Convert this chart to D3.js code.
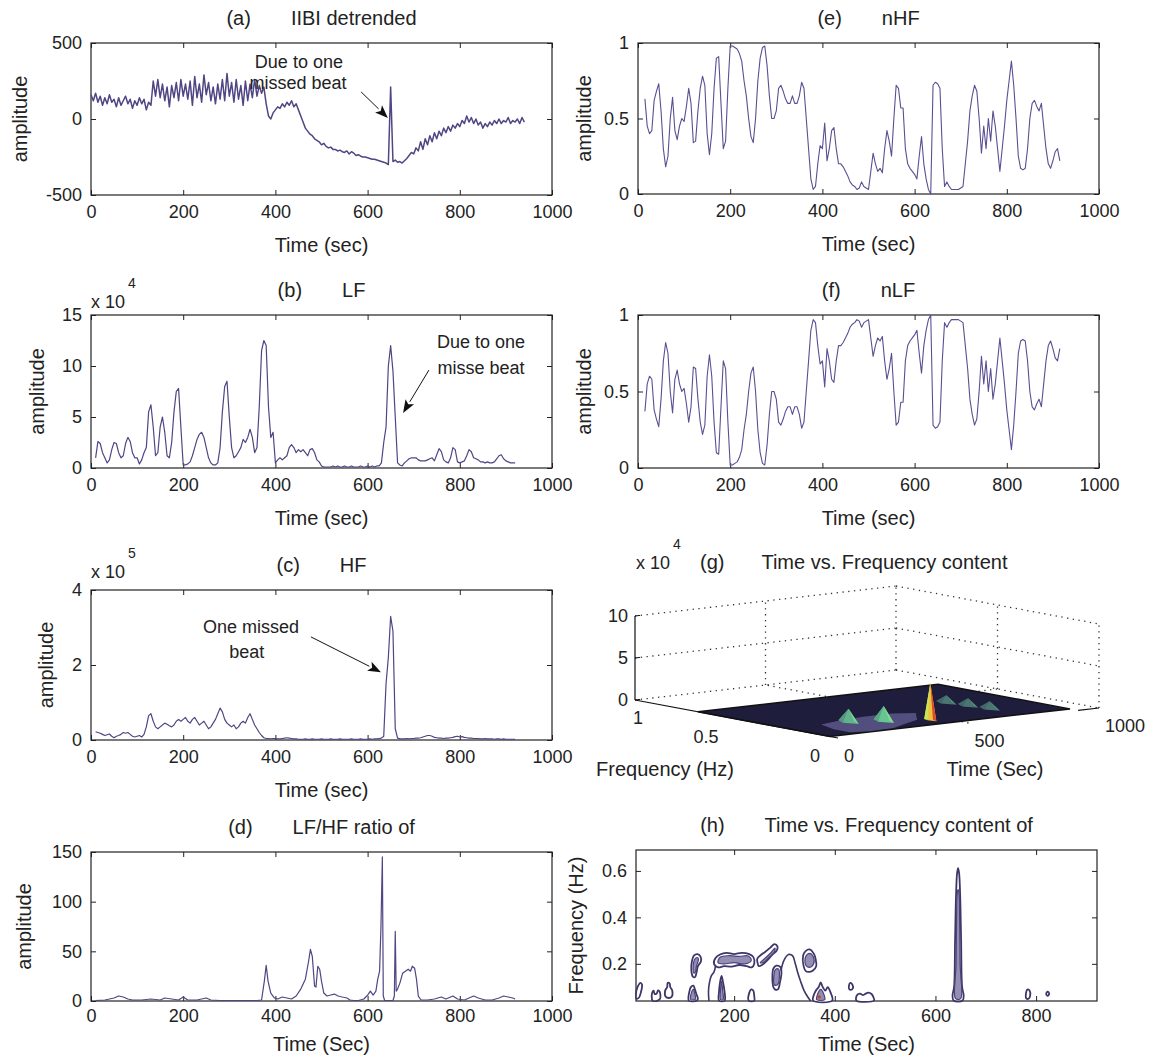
<!DOCTYPE html>
<html>
<head>
<meta charset="utf-8">
<script src="https://cdn.jsdelivr.net/npm/d3@7/dist/d3.min.js"></script>
<style>
html,body{margin:0;padding:0;background:#fff;}
svg text{font-family:"Liberation Sans",Arial,Helvetica,sans-serif;font-size:20px;fill:#222;}
svg .tick text{font-size:18px;}
svg text.ann{font-size:18px;}
</style>
</head>
<body>
<svg id="fig" width="1166" height="1060"></svg>
<script>
// ===================== DATA =====================
const timeTicks = [0, 200, 400, 600, 800, 1000];

// (a) IIBI detrended : one value every 5 s starting at t = 0
const iibiStart = 0, iibiStep = 5;
const iibiValues = [
 160,120,170,110,150,90,140,100,160,110, 130,80,140,90,120,150,100,130,70,120,
 90,140,100,130,60,110,90,
 250,150,260,140,230,120,210,80,220,140, 240,120,260,150,230,130,250,90,280,140,
 230,110,290,160,240,120,210,100,230,130, 260,120,300,150,240,110,260,130,220,90,
 250,120,230,140,260,150,220,170,210,100,
 20,0,40,60,80,70,100,80,110,90, 120,80,100,60,20,-20,-60,-80,-100,-110,
 -130,-140,-150,-170,-160,-180,-190,-185,-200,-200, -210,-205,-215,-220,-210,-230,-215,-225,-240,-235,
 -245,-250,-250,-255,-260,-265,-265,-270,-275,-280, -285,-290,-300,210,-280,-270,-285,-280,-290,-275,
 -260,-240,-220,-230,-190,-210,-150,-200,-130,-170, -110,-150,-90,-130,-80,-110,-60,-90,-50,-80,
 -40,-60,-30,-50,-10,-30,20,-20,10,-30, 0,-40,-20,-60,-30,-50,-20,-40,-10,-30,
 0,-30,-10,-20,10,-30,-10,-20,0,-30, 10,-20
];
const iibiTicks = [-500, 0, 500];

// (b) LF power (x10^4) : every 5 s from t = 10
const lfStart = 10, lfStep = 5;
const lfValues = [
 1.0,2.6,2.4,1.5,1.0,0.5,0.8,1.8,2.5,2.4,
 1.5,1.0,1.2,2.4,3.0,2.6,1.5,1.0,1.0,0.4,
 0.8,1.5,2.0,5.5,6.2,4.0,1.2,1.5,4.0,5.0,
 3.5,1.2,1.0,2.5,5.5,7.5,7.8,4.0,0.3,0.3,
 0.4,0.6,1.2,2.0,2.8,3.3,3.5,3.0,2.0,1.0,
 0.5,0.3,0.3,0.5,2.0,5.5,8.0,8.5,5.0,2.0,
 1.0,1.2,1.6,2.0,2.8,2.5,3.0,3.8,3.0,1.5,
 2.0,6.0,11.5,12.5,12.0,6.0,3.0,3.5,0.5,0.8,
 1.0,0.8,1.0,1.2,2.0,2.3,2.0,1.5,1.8,1.6,
 1.8,1.5,1.2,1.8,1.9,1.5,0.8,0.6,0.2,0.1,
 0.1,0.1,0.1,0.2,0.1,0.2,0.1,0.1,0.2,0.1,
 0.1,0.2,0.1,0.1,0.1,0.2,0.1,0.1,0.2,0.1,
 0.2,0.1,0.2,0.2,0.5,2.5,4.0,10.0,12.0,9.5,
 5.0,0.5,0.3,0.2,0.5,0.7,0.9,1.0,1.0,1.0,
 0.8,0.7,0.7,0.7,0.8,0.9,1.0,0.7,1.3,1.9,
 1.6,0.8,0.6,0.5,1.0,2.0,1.8,0.6,0.5,0.6,
 0.7,1.2,1.8,1.6,1.0,0.9,0.8,0.6,0.6,0.5,
 0.6,0.5,0.5,0.6,0.9,1.2,1.3,0.9,0.7,0.6,
 0.5,0.5,0.5
];
const lfTicks = [0, 5, 10, 15];

// (c) HF power (x10^5) : every 5 s from t = 10
const hfStart = 10, hfStep = 5;
const hfValues = [
 0.22,0.20,0.18,0.15,0.12,0.14,0.16,0.10,0.06,0.10,
 0.12,0.15,0.20,0.18,0.20,0.15,0.10,0.08,0.10,0.12,
 0.08,0.15,0.35,0.65,0.70,0.50,0.35,0.30,0.35,0.40,
 0.45,0.42,0.38,0.35,0.40,0.50,0.55,0.50,0.55,0.60,
 0.50,0.45,0.55,0.60,0.50,0.40,0.45,0.50,0.40,0.30,
 0.35,0.45,0.55,0.70,0.85,0.75,0.55,0.45,0.40,0.35,
 0.40,0.30,0.35,0.45,0.50,0.45,0.60,0.70,0.55,0.40,
 0.30,0.20,0.12,0.06,0.04,0.04,0.03,0.04,0.04,0.03,
 0.03,0.04,0.05,0.06,0.05,0.04,0.03,0.03,0.02,0.02,
 0.02,0.03,0.02,0.02,0.03,0.02,0.02,0.02,0.03,0.02,
 0.02,0.02,0.03,0.02,0.02,0.02,0.03,0.02,0.02,0.02,
 0.02,0.03,0.02,0.02,0.02,0.03,0.02,0.02,0.02,0.03,
 0.02,0.03,0.03,0.04,0.05,0.10,1.50,2.20,3.30,2.90,
 0.30,0.05,0.03,0.03,0.03,0.04,0.03,0.04,0.04,0.05,
 0.05,0.06,0.08,0.10,0.12,0.12,0.10,0.07,0.06,0.05,
 0.05,0.04,0.05,0.05,0.06,0.07,0.09,0.10,0.08,0.09,
 0.07,0.06,0.05,0.05,0.04,0.04,0.04,0.03,0.03,0.04,
 0.03,0.03,0.03,0.02,0.03,0.03,0.02,0.03,0.02,0.02,
 0.02,0.02,0.02
];
const hfTicks = [0, 2, 4];

// (d) LF/HF ratio
const ratioTime = [10,30,50,60,70,80,90,110,130,150,160,175,190,200,210,230,250,260,280,300,
 320,340,360,370,376,380,384,390,398,405,415,425,435,445,455,465,472,476,480,485,
 488,492,496,500,505,512,520,528,536,545,555,562,570,580,592,600,606,612,618,622,
 626,629,632,634,637,645,655,658,660,662,665,670,676,682,688,693,697,702,706,710,
 716,730,745,760,770,785,795,810,830,840,855,870,885,895,905,915,920];
const ratioValues = [0.5,1,3,5,4,2,1,1,2,1,3,2,1,4,1,1,3,1,0.5,0.5,
 0.5,0.5,0.5,1,20,36,20,8,3,2,4,3,2,5,12,22,40,52,45,15,
 14,35,32,20,8,5,6,7,5,4,3,1,0.5,0.5,2,6,10,6,10,22,
 30,75,145,5,0.5,0.5,0.5,5,70,10,12,18,28,30,32,30,35,33,22,5,
 1,1,2,4,2,5,2,1,5,3,1,1,3,5,4,3,2];
const ratioTicks = [0, 50, 100, 150];

// (e) nHF : every 5 s from t = 15
const nhfStart = 15, nhfStep = 5;
const nhfValues = [
 0.63,0.45,0.40,0.42,0.62,0.68,0.73,0.55,0.30,0.18,
 0.25,0.50,0.64,0.42,0.36,0.45,0.50,0.48,0.58,0.70,
 0.60,0.34,0.35,0.55,0.70,0.78,0.72,0.40,0.26,0.40,
 0.70,0.90,0.91,0.60,0.30,0.35,0.70,0.98,0.98,0.97,
 0.96,0.93,0.88,0.75,0.65,0.50,0.38,0.34,0.50,0.75,
 0.90,0.97,0.98,0.85,0.65,0.50,0.50,0.55,0.70,0.72,
 0.68,0.63,0.60,0.60,0.65,0.60,0.60,0.65,0.74,0.70,
 0.50,0.30,0.10,0.03,0.05,0.20,0.32,0.30,0.47,0.22,
 0.30,0.42,0.44,0.30,0.20,0.20,0.18,0.15,0.12,0.08,
 0.06,0.05,0.03,0.04,0.08,0.05,0.04,0.03,0.15,0.27,
 0.20,0.15,0.17,0.14,0.30,0.42,0.35,0.25,0.50,0.72,
 0.70,0.57,0.57,0.30,0.20,0.17,0.15,0.13,0.10,0.25,
 0.38,0.20,0.10,0.03,0.00,0.72,0.74,0.73,0.70,0.30,
 0.05,0.08,0.05,0.03,0.03,0.03,0.03,0.04,0.05,0.20,
 0.35,0.55,0.65,0.72,0.68,0.50,0.27,0.45,0.30,0.50,
 0.35,0.55,0.45,0.30,0.15,0.30,0.45,0.62,0.75,0.88,
 0.72,0.50,0.25,0.17,0.16,0.17,0.30,0.50,0.60,0.62,
 0.58,0.55,0.60,0.45,0.30,0.20,0.17,0.22,0.28,0.30,
 0.22
];
// (f) nLF : every 5 s from t = 15
const nlfStart = 15, nlfStep = 5;
const nlfValues = [
 0.37,0.55,0.60,0.58,0.38,0.32,0.27,0.45,0.70,0.82,
 0.75,0.50,0.36,0.58,0.64,0.55,0.50,0.52,0.42,0.30,
 0.40,0.66,0.65,0.45,0.30,0.22,0.28,0.60,0.74,0.60,
 0.30,0.10,0.09,0.40,0.70,0.65,0.30,0.02,0.02,0.03,
 0.04,0.07,0.12,0.25,0.35,0.50,0.62,0.66,0.50,0.25,
 0.10,0.03,0.02,0.15,0.35,0.50,0.50,0.45,0.30,0.28,
 0.32,0.37,0.40,0.40,0.35,0.40,0.40,0.35,0.26,0.30,
 0.50,0.70,0.90,0.97,0.95,0.80,0.68,0.70,0.53,0.78,
 0.70,0.58,0.56,0.70,0.80,0.80,0.82,0.85,0.88,0.92,
 0.94,0.95,0.97,0.96,0.92,0.95,0.96,0.97,0.85,0.73,
 0.80,0.85,0.83,0.86,0.70,0.58,0.65,0.75,0.50,0.28,
 0.30,0.43,0.43,0.70,0.80,0.83,0.85,0.87,0.90,0.75,
 0.62,0.80,0.90,0.97,1.00,0.28,0.26,0.27,0.30,0.70,
 0.95,0.92,0.95,0.97,0.97,0.97,0.97,0.96,0.95,0.80,
 0.65,0.45,0.35,0.28,0.32,0.50,0.73,0.55,0.70,0.50,
 0.65,0.45,0.55,0.70,0.85,0.70,0.55,0.38,0.25,0.12,
 0.28,0.50,0.75,0.83,0.84,0.83,0.70,0.50,0.40,0.38,
 0.42,0.45,0.40,0.55,0.70,0.80,0.83,0.78,0.72,0.70,
 0.78
];
const normTicks = [0, 0.5, 1];

// (g) 3-D time/frequency surface (height in x10^4)
const gTimeTicks = [0, 500, 1000];
const gFreqTicks = [0, 0.5, 1];
const gZTicks = [0, 5, 10];
const gSurfTime = [0, 920];
const gSurfFreq = [0.04, 0.69];
const gLowPatch = [[100,0.07],[160,0.05],[260,0.06],[330,0.1],[420,0.15],[500,0.26],[440,0.3],[330,0.3],[220,0.28],[130,0.25],[100,0.15]];
const gPeakTime   = [227, 323, 447, 703, 716, 729];
const gPeakFreq   = [0.24, 0.19, 0.12, 0.37, 0.28, 0.19];
const gPeakHeight = [1.6, 1.8, 4.4, 0.9, 0.9, 0.9];

// (h) contour outlines [time, freq]
const hTimeTicks = [200, 400, 600, 800];
const hFreqTicks = [0.2, 0.4, 0.6];
const hOuter = [
 [[6,0.05],[5,0.07],[8,0.1],[14,0.118],[17,0.11],[15,0.08],[11,0.055]],
 [[38,0.042],[37,0.075],[40,0.085],[42,0.07],[46,0.072],[49,0.086],[52,0.08],[53,0.05],[48,0.042]],
 [[64,0.058],[63,0.085],[67,0.1],[68,0.118],[72,0.115],[73,0.1],[77,0.085],[76,0.058],[70,0.053]],
 [[110,0.042],[111,0.08],[114,0.1],[119,0.106],[122,0.09],[125,0.07],[128,0.05],[126,0.042]],
 [[118,0.145],[115,0.17],[116,0.21],[120,0.235],[127,0.242],[133,0.232],[134,0.21],[128,0.19],[125,0.16],[122,0.142]],
 [[160,0.2],[163,0.225],[172,0.24],[185,0.247],[200,0.242],[215,0.247],[230,0.242],[238,0.23],[240,0.2],[235,0.185],[225,0.19],[210,0.195],[195,0.188],[180,0.19],[168,0.185]],
 [[170,0.042],[170,0.08],[172,0.12],[175,0.148],[178,0.12],[181,0.08],[181,0.042]],
 [[229,0.042],[230,0.075],[234,0.09],[238,0.085],[240,0.06],[240,0.042]],
 [[247,0.2],[246,0.222],[252,0.236],[262,0.252],[272,0.27],[280,0.285],[286,0.275],[284,0.255],[276,0.24],[266,0.215],[256,0.196],[249,0.19]],
 [[278,0.1],[276,0.14],[278,0.18],[284,0.192],[292,0.186],[294,0.16],[291,0.12],[287,0.09],[281,0.09]],
 [[338,0.19],[337,0.235],[342,0.255],[350,0.262],[358,0.245],[362,0.22],[363,0.19],[356,0.17],[348,0.165],[342,0.17]],
 [[357,0.042],[359,0.07],[364,0.09],[368,0.1],[372,0.12],[376,0.1],[381,0.085],[386,0.1],[391,0.08],[395,0.042]],
 [[429,0.09],[428,0.105],[431,0.118],[435,0.11],[436,0.095],[432,0.088]],
 [[443,0.042],[444,0.065],[450,0.072],[456,0.065],[460,0.07],[467,0.076],[473,0.07],[477,0.055],[478,0.042]],
 [[636,0.042],[634,0.065],[637,0.1],[639,0.3],[641,0.5],[643,0.59],[645,0.612],[647,0.59],[649,0.5],[651,0.3],[653,0.1],[656,0.065],[654,0.042]],
 [[781,0.05],[780,0.075],[783,0.09],[787,0.085],[788,0.06],[785,0.05]],
 [[820,0.07],[823,0.08],[826,0.072],[823,0.062]]
];
const hInner = [
 [[114,0.046],[115,0.075],[119,0.09],[122,0.07],[123,0.048]],
 [[120,0.16],[119,0.2],[124,0.225],[129,0.222],[125,0.19],[123,0.165]],
 [[168,0.205],[172,0.228],[190,0.235],[210,0.232],[228,0.234],[234,0.215],[222,0.2],[200,0.205],[180,0.2]],
 [[173,0.046],[173,0.09],[175,0.125],[177,0.09],[178,0.046]],
 [[252,0.205],[262,0.225],[274,0.25],[281,0.268],[280,0.25],[268,0.225],[258,0.205]],
 [[280,0.11],[279,0.15],[282,0.175],[288,0.178],[290,0.15],[286,0.11]],
 [[342,0.195],[342,0.23],[350,0.245],[357,0.232],[358,0.2],[350,0.185]],
 [[364,0.046],[366,0.07],[372,0.09],[378,0.07],[380,0.046]],
 [[640,0.05],[641,0.2],[642,0.4],[643,0.5],[645,0.52],[647,0.5],[648,0.4],[649,0.2],[650,0.05]]
];
const hOpen = [
 [[150,0.04],[149,0.08],[151,0.12],[155,0.15],[160,0.165],[163,0.19]],
 [[293,0.17],[299,0.215],[308,0.24],[316,0.235],[321,0.205],[326,0.165],[332,0.125],[339,0.085],[347,0.055],[352,0.04]]
];
const hMark = [369, 0.057];

// ===================== DRAWING =====================
const svg = d3.select("#fig");
const LINE = "#4f4683";
const AX = "#222";
svg.append("rect").attr("width",1166).attr("height",1060).attr("fill","#fff");

function series(start, step, vals){ return vals.map((v,i)=>[start + i*step, v]); }

function panel(o){
  const x = d3.scaleLinear().domain(o.xd).range([o.l, o.r]);
  const y = d3.scaleLinear().domain(o.yd).range([o.b, o.t]);
  const g = svg.append("g");
  const fmt = d => String(d);
  g.append("g").attr("transform",`translate(0,${o.b})`)
    .call(d3.axisBottom(x).tickValues(o.xt).tickSizeInner(-5).tickSizeOuter(0).tickPadding(o.tp||10).tickFormat(fmt));
  g.append("g").attr("transform",`translate(0,${o.t})`)
    .call(d3.axisTop(x).tickValues(o.xt).tickSizeInner(-5).tickSizeOuter(0).tickFormat(""));
  g.append("g").attr("transform",`translate(${o.l},0)`)
    .call(d3.axisLeft(y).tickValues(o.yt).tickSizeInner(-5).tickSizeOuter(0).tickPadding(9).tickFormat(fmt));
  g.append("g").attr("transform",`translate(${o.r},0)`)
    .call(d3.axisRight(y).tickValues(o.yt).tickSizeInner(-5).tickSizeOuter(0).tickFormat(""));
  g.selectAll(".domain").remove();
  g.selectAll(".tick line").attr("stroke",AX);
  g.append("rect").attr("x",o.l).attr("y",o.t).attr("width",o.r-o.l).attr("height",o.b-o.t)
    .attr("fill","none").attr("stroke",AX).attr("stroke-width",1.2);
  const tt = svg.append("text").attr("x",(o.l+o.r)/2).attr("y",o.t-18).attr("text-anchor","middle");
  tt.append("tspan").text(o.letter);
  tt.append("tspan").attr("dx",40).text(o.title);
  svg.append("text").attr("x",(o.l+o.r)/2).attr("y",o.b+(o.xlo||57)).attr("text-anchor","middle").text(o.xlabel);
  svg.append("text").attr("transform",`translate(${o.ylx},${(o.t+o.b)/2}) rotate(-90)`)
    .attr("text-anchor","middle").attr("dy","0.35em").text(o.ylabel);
  return {x, y};
}

function trace(p, data, w, c){
  svg.append("path").datum(data).attr("fill","none").attr("stroke",c||LINE)
    .attr("stroke-width",w||1.2).attr("stroke-linejoin","round")
    .attr("d", d3.line().x(d=>p.x(d[0])).y(d=>p.y(d[1])));
}

function arrow(x1,y1,x2,y2){
  const a = Math.atan2(y2-y1,x2-x1), L = 13, W = 5;
  const bx = x2 - L*Math.cos(a), by = y2 - L*Math.sin(a);
  svg.append("line").attr("x1",x1).attr("y1",y1).attr("x2",bx).attr("y2",by).attr("stroke","#111").attr("stroke-width",1);
  const px = -Math.sin(a), py = Math.cos(a);
  svg.append("path").attr("fill","#111")
    .attr("d",`M${x2},${y2}L${bx+px*W},${by+py*W}L${bx+3*Math.cos(a)},${by+3*Math.sin(a)}L${bx-px*W},${by-py*W}Z`);
}

function note(x, y, s){
  svg.append("text").attr("class","ann").attr("x",x).attr("y",y).attr("text-anchor","middle").text(s);
}

function expLabel(x, y, e){
  const t = svg.append("text").attr("x",x).attr("y",y).style("font-size","18px");
  t.append("tspan").text("x 10");
  t.append("tspan").attr("dx",3).attr("dy",-20).style("font-size","14px").text(e);
}

// ---- (a)
const pa = panel({l:91,r:552,t:43,b:195,xd:[0,1000],yd:[-500,500],xt:timeTicks,yt:iibiTicks,
  letter:"(a)",title:"IIBI detrended",xlabel:"Time (sec)",ylabel:"amplitude",ylx:20});
trace(pa, series(iibiStart, iibiStep, iibiValues), 1.5);
note(pa.x(451), pa.y(335), "Due to one");
note(pa.x(449), pa.y(200), "missed beat");
arrow(pa.x(586),pa.y(178),pa.x(644),pa.y(7));

// ---- (b)
const pb = panel({l:91,r:552,t:315,b:468,xd:[0,1000],yd:[0,15],xt:timeTicks,yt:lfTicks,
  letter:"(b)",title:"LF",xlabel:"Time (sec)",ylabel:"amplitude",ylx:37});
trace(pb, series(lfStart, lfStep, lfValues));
expLabel(91, 308, "4");
note(pb.x(846), pb.y(11.76), "Due to one");
note(pb.x(846), pb.y(9.2), "misse beat");
arrow(pb.x(733),pb.y(9.6),pb.x(677),pb.y(5.4));

// ---- (c)
const pc = panel({l:91,r:552,t:590,b:740,xd:[0,1000],yd:[0,4],xt:timeTicks,yt:hfTicks,
  letter:"(c)",title:"HF",xlabel:"Time (sec)",ylabel:"amplitude",ylx:46});
trace(pc, series(hfStart, hfStep, hfValues));
expLabel(91, 578, "5");
note(pc.x(347), pc.y(2.85), "One missed");
note(pc.x(338), pc.y(2.19), "beat");
arrow(pc.x(477),pc.y(2.75),pc.x(629),pc.y(1.81));

// ---- (d)
const pd = panel({l:91,r:552,t:852,b:1001,xd:[0,1000],yd:[0,150],xt:timeTicks,yt:ratioTicks,tp:8,xlo:50,
  letter:"(d)",title:"LF/HF ratio of",xlabel:"Time (Sec)",ylabel:"amplitude",ylx:24});
trace(pd, ratioTime.map((t,i)=>[t, ratioValues[i]]));

// ---- (e)
const pe = panel({l:638,r:1099,t:43,b:194,xd:[0,1000],yd:[0,1],xt:timeTicks,yt:normTicks,
  letter:"(e)",title:"nHF",xlabel:"Time (sec)",ylabel:"amplitude",ylx:584});
trace(pe, series(nhfStart, nhfStep, nhfValues), 1.1, "#5a4f92");

// ---- (f)
const pf = panel({l:638,r:1099,t:315,b:468,xd:[0,1000],yd:[0,1],xt:timeTicks,yt:normTicks,
  letter:"(f)",title:"nLF",xlabel:"Time (sec)",ylabel:"amplitude",ylx:584});
trace(pf, series(nlfStart, nlfStep, nlfValues), 1.1, "#5a4f92");

// ---- (h)
const ph = panel({l:636,r:1097,t:850,b:1001,xd:[5,921],yd:[0.04,0.69],xt:hTimeTicks,yt:hFreqTicks,tp:8,xlo:50,
  letter:"(h)",title:"Time vs. Frequency content of",xlabel:"Time (Sec)",ylabel:"Frequency (Hz)",ylx:576});
{
  const closed = d3.line().x(d=>ph.x(d[0])).y(d=>ph.y(d[1])).curve(d3.curveCatmullRomClosed.alpha(0.5));
  const open = d3.line().x(d=>ph.x(d[0])).y(d=>ph.y(d[1])).curve(d3.curveCatmullRom.alpha(0.5));
  const cg = svg.append("g");
  cg.selectAll(".o").data(hOuter).join("path").attr("d",closed)
    .attr("fill","#fff").attr("stroke","#3e3669").attr("stroke-width",1.8);
  cg.selectAll(".i").data(hInner).join("path").attr("d",closed)
    .attr("fill","#6f6898").attr("fill-opacity",0.75).attr("stroke","#4a4378").attr("stroke-width",1.2);
  cg.selectAll(".p").data(hOpen).join("path").attr("d",open)
    .attr("fill","none").attr("stroke","#3e3669").attr("stroke-width",1.6);
  cg.append("circle").attr("cx",ph.x(hMark[0])).attr("cy",ph.y(hMark[1])).attr("r",1.8).attr("fill","#d0402a");
}

// ---- (g) 3-D surface (oblique projection built from linear scales)
{
  const gTx = d3.scaleLinear().domain([0,1000]).range([0,261]);
  const gTy = d3.scaleLinear().domain([0,1000]).range([0,-30]);
  const gFx = d3.scaleLinear().domain([0,1]).range([0,-203]);
  const gFy = d3.scaleLinear().domain([0,1]).range([0,-38]);
  const gZ  = d3.scaleLinear().domain([0,10]).range([0,-84]);
  const OX = 838, OY = 738;
  const P = (t,f,z=0) => [OX + gTx(t) + gFx(f), OY + gTy(t) + gFy(f) + gZ(z)];
  const g = svg.append("g");
  const dotted = (a,b) => g.append("line").attr("x1",a[0]).attr("y1",a[1]).attr("x2",b[0]).attr("y2",b[1])
      .attr("stroke","#333").attr("stroke-width",1.3).attr("stroke-dasharray","1.3,4.5");
  gZTicks.forEach(z => { dotted(P(0,1,z), P(1000,1,z)); dotted(P(1000,1,z), P(1000,0,z)); });
  dotted(P(500,1,0), P(500,1,10)); dotted(P(1000,1,0), P(1000,1,10));
  dotted(P(1000,0.5,0), P(1000,0.5,10)); dotted(P(1000,0,0), P(1000,0,10));
  dotted(P(500,0,0), P(500,1,0)); dotted(P(0,0.5,0), P(1000,0.5,0));
  const poly = pts => "M" + pts.map(p=>p.join(",")).join("L") + "Z";
  const [t0,t1] = gSurfTime, [f0,f1] = gSurfFreq;
  g.append("path").attr("d", poly([P(t0,f0),P(t1,f0),P(t1,f1),P(t0,f1)])).attr("fill","#1f1d3c").attr("stroke","#111").attr("stroke-width",1.5);
  g.append("path").attr("d", poly(gLowPatch.map(d=>P(d[0],d[1])))).attr("fill","#5f5c8f").attr("fill-opacity",0.8);
  g.append("path").attr("d", "M"+P(0,1,0).join(",")+"L"+P(0,0,0).join(",")).attr("stroke","#111").attr("stroke-width",1.2).attr("fill","none");
  g.append("path").attr("d", "M"+P(t1,0).join(",")+"L"+P(1000,0).join(",")).attr("stroke","#111").attr("stroke-width",1.2);
  const col = d3.scaleLinear().domain([0,1.5,3,4.5]).range(["#2a2850","#6ed69a","#ece842","#e23b2a"]).clamp(true);
  gPeakTime.forEach((t,i) => {
    const f = gPeakFreq[i], z = gPeakHeight[i];
    const dt = z > 3 ? 10 : 22, df = z > 3 ? 0.03 : 0.05;
    const apex = P(t,f,z);
    g.append("path").attr("d", poly([P(t,f+df), apex, P(t+dt,f)])).attr("fill", col(z*0.6));
    g.append("path").attr("d", poly([P(t-dt,f), apex, P(t,f+df)])).attr("fill", col(z*0.6));
    g.append("path").attr("d", poly([P(t-dt,f), apex, P(t,f-df)])).attr("fill", col(z*0.75));
    g.append("path").attr("d", poly([P(t,f-df), apex, P(t+dt,f)])).attr("fill", col(z));
  });
  g.append("line").attr("x1",P(0,1,0)[0]).attr("y1",P(0,1,0)[1]).attr("x2",P(0,1,10)[0]).attr("y2",P(0,1,10)[1]).attr("stroke","#111").attr("stroke-width",1.2);
  gZTicks.forEach(z => {
    const p = P(0,1,z);
    g.append("line").attr("x1",p[0]).attr("y1",p[1]).attr("x2",p[0]+5).attr("y2",p[1]-0.6).attr("stroke","#111");
    svg.append("text").attr("x",p[0]-7).attr("y",p[1]).attr("dy","0.35em").attr("text-anchor","end").style("font-size","18px").text(String(z));
  });
  gFreqTicks.forEach(f => {
    const p = P(0,f,0);
    svg.append("text").attr("x",p[0]-(f===1?-8:18)).attr("y",p[1]+24).attr("text-anchor","end").style("font-size","18px").text(String(f));
  });
  gTimeTicks.forEach(t => {
    const p = P(t,0,0);
    svg.append("text").attr("x",p[0]+6).attr("y",p[1]+24).attr("text-anchor","start").style("font-size","18px").text(String(t));
  });
  svg.append("text").attr("x",665).attr("y",776).attr("text-anchor","middle").text("Frequency (Hz)");
  svg.append("text").attr("x",995).attr("y",776).attr("text-anchor","middle").text("Time (Sec)");
  const tt = svg.append("text").attr("x",700).attr("y",569);
  tt.append("tspan").text("(g)");
  tt.append("tspan").attr("dx",37).text("Time vs. Frequency content");
  expLabel(636, 569, "4");
}
</script>
</body>
</html>
